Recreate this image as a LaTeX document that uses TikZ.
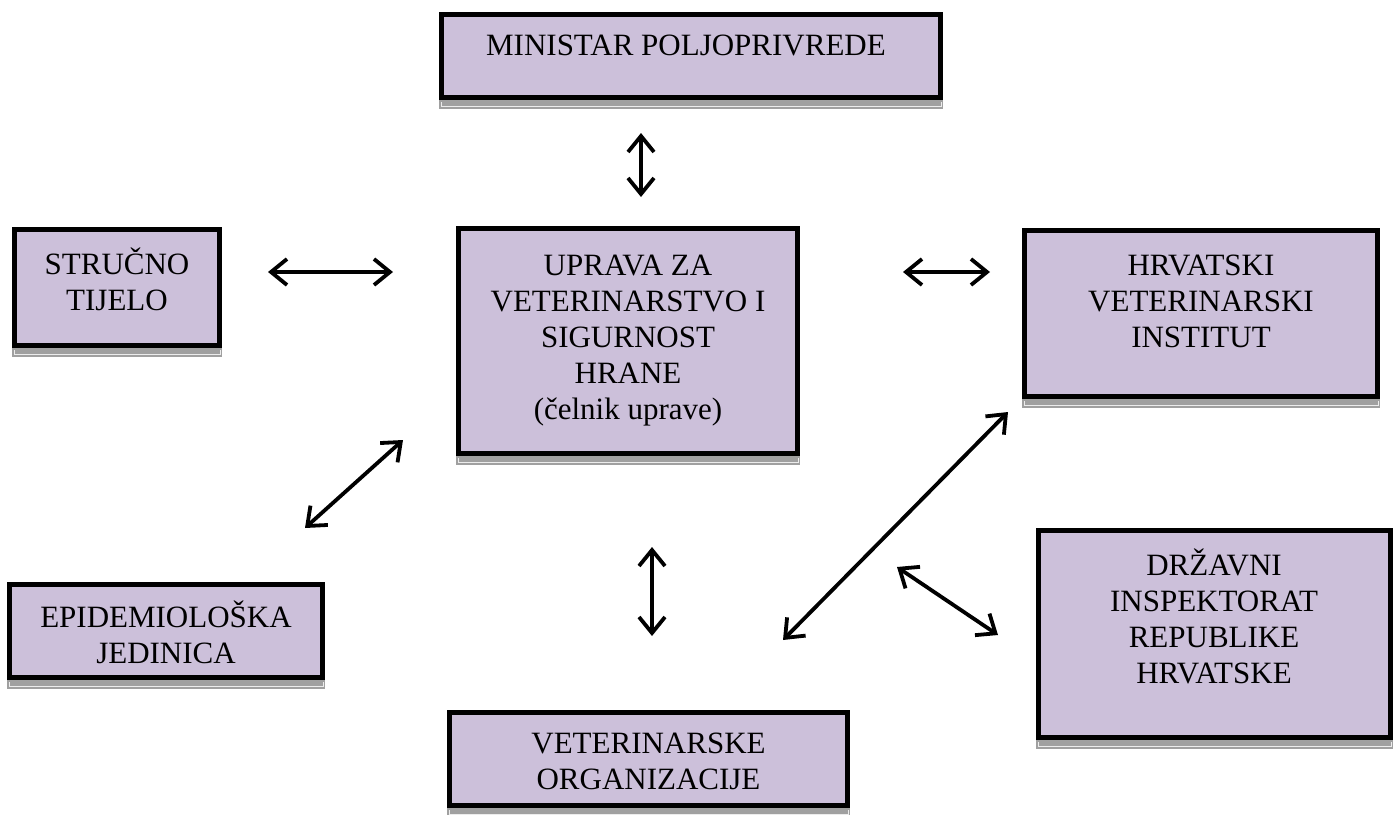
\documentclass[tikz,border=0pt]{standalone}
\usepackage{fontspec}
\setmainfont{Liberation Serif}
\usetikzlibrary{arrows.meta}
\definecolor{boxfill}{HTML}{CCC0DA}
\definecolor{shadowgray}{HTML}{A0A0A0}
\tikzset{
  orgbox/.style={draw=black, line width=5pt, fill=boxfill, inner sep=0pt},
  orgtext/.style={anchor=north, align=center, inner sep=0pt, font=\fontsize{31}{36}\selectfont},
  link/.style={line width=3.8pt, {Straight Barb[length=16pt,width=26pt]}-{Straight Barb[length=16pt,width=26pt]}},
}
\newcommand\orgshadow[4]{%
  \fill[shadowgray] (#1,#4) rectangle (#3,#4+9);
  \draw[white!85!gray, line width=0.8pt] (#1+2,#4+2) -- (#1+2,#4+6) -- (#3-2,#4+6) -- (#3-2,#4+2);
}
\begin{document}
\begin{tikzpicture}[x=1pt,y=-1pt]
\useasboundingbox (0,0) rectangle (1394,814);
% shadows
\orgshadow{439}{12}{943}{100}
\orgshadow{12}{227}{222}{348}
\orgshadow{456}{226}{800}{456}
\orgshadow{1022}{228}{1380}{399}
\orgshadow{7}{582}{325}{680}
\orgshadow{447}{710}{850}{808}
\orgshadow{1036}{528}{1393}{740}
% boxes
\node[orgbox, minimum width=499pt, minimum height=83pt] (min) at (691,56) {};
\node[orgbox, minimum width=205pt, minimum height=116pt] (str) at (117,287.5) {};
\node[orgbox, minimum width=339pt, minimum height=225pt] (upr) at (628,341) {};
\node[orgbox, minimum width=353pt, minimum height=166pt] (hrv) at (1201,313.5) {};
\node[orgbox, minimum width=313pt, minimum height=93pt] (epi) at (166,631) {};
\node[orgbox, minimum width=398pt, minimum height=93pt] (vet) at (648.5,759) {};
\node[orgbox, minimum width=352pt, minimum height=207pt] (drz) at (1214.5,634) {};
% texts
\node[orgtext] (min-t) at (686,30) {\strut MINISTAR POLJOPRIVREDE};
\node[orgtext] (str-t) at (117,248) {\strut STRUČNO\\TIJELO};
\node[orgtext] (upr-t) at (628,250) {\strut UPRAVA ZA\\VETERINARSTVO I\\SIGURNOST\\HRANE\\(čelnik uprave)};
\node[orgtext] (hrv-t) at (1201,250) {\strut HRVATSKI\\VETERINARSKI\\INSTITUT};
\node[orgtext] (epi-t) at (166,601) {\strut EPIDEMIOLOŠKA\\JEDINICA};
\node[orgtext] (vet-t) at (648.5,728) {\strut VETERINARSKE\\ORGANIZACIJE};
\node[orgtext] (drz-t) at (1214,549) {\strut DRŽAVNI\\INSPEKTORAT\\REPUBLIKE\\HRVATSKE};
% arrow end points
\coordinate (a1s) at (641,133); \coordinate (a1e) at (641,197);
\coordinate (a2s) at (268,272); \coordinate (a2e) at (393,272);
\coordinate (a3s) at (903,272); \coordinate (a3e) at (990,272);
\coordinate (a4s) at (305,528); \coordinate (a4e) at (403,440);
\coordinate (a5s) at (652,547); \coordinate (a5e) at (652,636);
\coordinate (a6s) at (783,640); \coordinate (a6e) at (1008,412);
\coordinate (a7s) at (897,567); \coordinate (a7e) at (998,635);
\draw[link] (a1s) -- (a1e);
\draw[link] (a2s) -- (a2e);
\draw[link] (a3s) -- (a3e);
\draw[link] (a4s) -- (a4e);
\draw[link] (a5s) -- (a5e);
\draw[link] (a6s) -- (a6e);
\draw[link] (a7s) -- (a7e);
\end{tikzpicture}
\end{document}
